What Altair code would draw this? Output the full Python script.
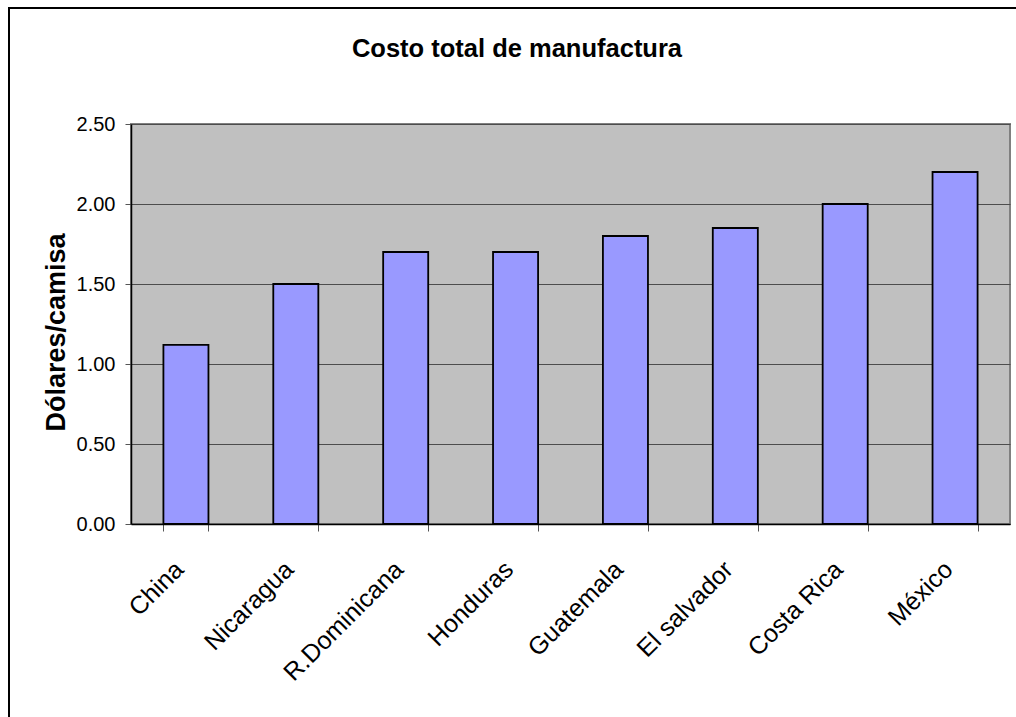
import altair as alt
import pandas as pd

countries = ["China", "Nicaragua", "R.Dominicana", "Honduras", "Guatemala",
             "El salvador", "Costa Rica", "México"]
costs = [1.12, 1.50, 1.70, 1.70, 1.80, 1.85, 2.00, 2.20]
y_ticks = [0.0, 0.5, 1.0, 1.5, 2.0, 2.5]
chart_title = "Costo total de manufactura"

df = pd.DataFrame({"pais": countries, "costo": costs})
FONT = "Liberation Sans"

bars = alt.Chart(df).mark_bar(
    color="#9999FF", stroke="#000000", strokeWidth=1.8
).encode(
    x=alt.X("pais:N", sort=countries,
            scale=alt.Scale(paddingInner=0.59, paddingOuter=0.295),
            axis=alt.Axis(title=None, labelAngle=-45, labelAlign="right",
                          labelBaseline="middle", labelFontSize=25,
                          labelFont=FONT, labelColor="#000000",
                          labelPadding=34, labelOffset=-7,
                          tickBand="extent", tickSize=7,
                          tickColor="#555555", domainColor="#000000",
                          domainWidth=1.5, grid=False)),
    y=alt.Y("costo:Q",
            scale=alt.Scale(domain=[0, 2.5], nice=False),
            axis=alt.Axis(values=y_ticks, format=".2f", title="Dólares/camisa",
                          titleFont=FONT, titleFontSize=27, titleFontWeight="bold",
                          titleColor="#000000", titleX=-75, titleY=208,
                          titleAngle=-90, titleAlign="center",
                          titleBaseline="middle",
                          labelFontSize=20, labelFont=FONT, labelColor="#000000",
                          labelPadding=10, tickSize=6, tickColor="#555555",
                          domainColor="#000000", domainWidth=1.5,
                          grid=True, gridColor="#4d4d4d", gridWidth=1)),
)

frame = alt.Chart(pd.DataFrame({"a": [0]})).mark_rect(
    fill=None, stroke="#000000", strokeWidth=2
).encode(
    x=alt.value(-122), x2=alt.value(900), y=alt.value(-116), y2=alt.value(620)
)

title_text = alt.Chart(pd.DataFrame({"t": [chart_title]})).mark_text(
    font=FONT, fontSize=25.5, fontWeight="bold", color="#000000",
    align="center", baseline="alphabetic"
).encode(
    text="t:N", x=alt.value(386), y=alt.value(-67)
)

chart = alt.layer(bars, frame, title_text).properties(
    width=879, height=400,
    background="#FFFFFF",
    autosize=alt.AutoSizeParams(type="none"),
    padding={"left": 131, "top": 124, "right": 6, "bottom": 193},
).configure_view(
    fill="#C0C0C0", stroke="#808080", strokeWidth=2
)

chart.save("out.html", embed_options={"renderer": "svg", "actions": False})
